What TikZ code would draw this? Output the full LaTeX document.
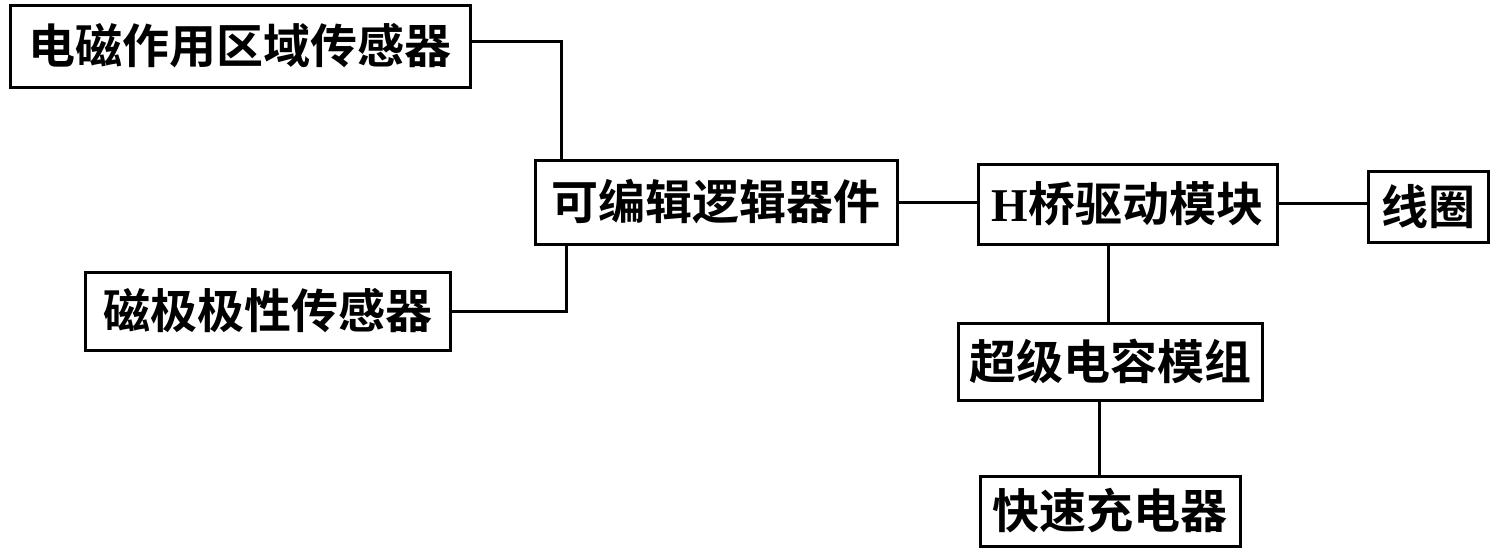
\documentclass[tikz,border=0pt]{standalone}
\usepackage{fontspec}
\newfontfamily\cjk{Noto Sans CJK SC}[BoldFont={* Bold}]
\newfontfamily\hfont{Liberation Serif}
\begin{document}
\begin{tikzpicture}[x=1pt,y=-1pt,
  blk/.style={draw,line width=3pt,inner sep=0pt,
    font=\cjk\bfseries\fontsize{47}{47}\selectfont},
  wire/.style={line width=3pt}]
\useasboundingbox (0,0) rectangle (1496,552);
% boxes
\node[blk,minimum width=460pt,minimum height=82pt] (n1) at (240,46) {电磁作用区域传感器};
\node[blk,minimum width=362pt,minimum height=84pt] (n2) at (716,202) {可编辑逻辑器件};
\node[blk,minimum width=365pt,minimum height=78pt] (n3) at (267.5,311) {磁极极性传感器};
\node[blk,minimum width=299pt,minimum height=80pt] (n4) at (1127.5,204) {{\hfont\bfseries H}桥驱动模块};
\node[blk,minimum width=120pt,minimum height=71pt] (n5) at (1428,206.5) {线圈};
\node[blk,minimum width=304pt,minimum height=77pt] (n6) at (1110,361.5) {超级电容模组};
\node[blk,minimum width=260pt,minimum height=70pt] (n7) at (1110,511) {快速充电器};
% wires
\draw[wire] ([yshift=5pt]n1.east) -| ([xshift=28pt]n2.north west);
\draw[wire] (n3.east) -| ([xshift=33pt]n2.south west);
\draw[wire] (n2.east) -- (n2.east -| n4.west);
\draw[wire] ([yshift=1pt]n4.east) -- ([yshift=1pt]n4.east -| n5.west);
\draw[wire] ([xshift=-19.5pt]n4.south) -- ([xshift=-19.5pt]n4.south |- n6.north);
\draw[wire] ([xshift=-11pt]n6.south) -- ([xshift=-11pt]n6.south |- n7.north);
\end{tikzpicture}
\end{document}
